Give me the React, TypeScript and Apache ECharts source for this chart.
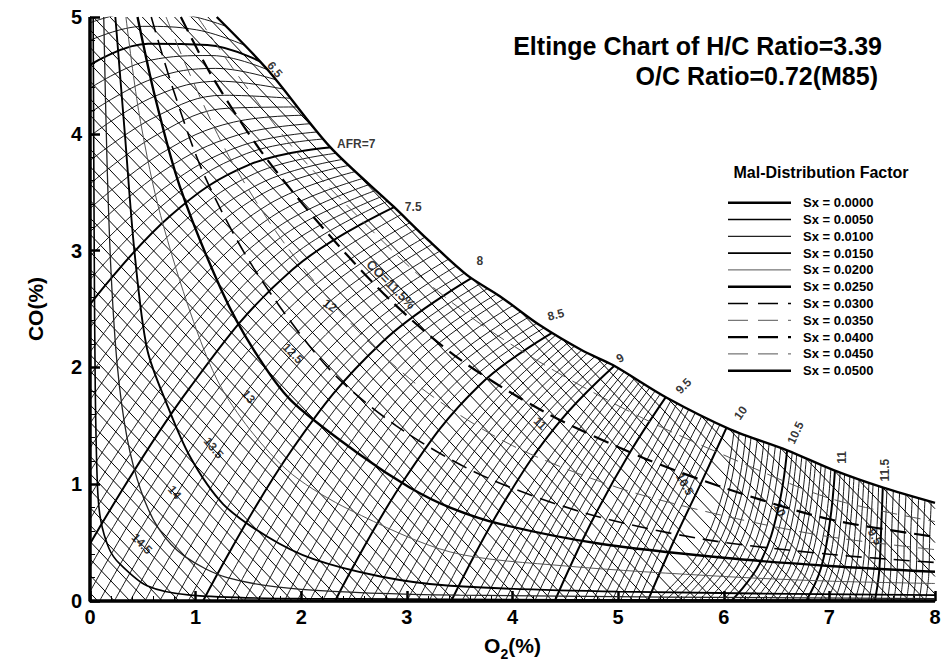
import { useEffect, useRef } from "react";
import * as echarts from "echarts";

const FONT = "'Liberation Sans', Arial, Helvetica, sans-serif";

const titleLines = ["Eltinge Chart of H/C Ratio=3.39", "O/C Ratio=0.72(M85)"];
const legendTitle = "Mal-Distribution Factor";
const sxValues = ["0.0000", "0.0050", "0.0100", "0.0150", "0.0200", "0.0250", "0.0300", "0.0350", "0.0400", "0.0450", "0.0500"];

// Sx (mal-distribution) curves, points are [O2 %, CO %]
const sx0000 = [[0, 5], [0, 0], [8, 0]];
const sx0050 = [[0.03, 5], [0.04, 3], [0.05, 1.8], [0.07, 1.0], [0.1, 0.7], [0.18, 0.45], [0.28, 0.32], [0.54, 0.13], [0.95, 0.05], [2, 0.02], [8, 0.005]];
const sx0100 = [[0.13, 5], [0.16, 3.8], [0.2, 2.8], [0.26, 2.0], [0.35, 1.4], [0.48, 0.95], [0.65, 0.62], [0.9, 0.38], [1.3, 0.2], [2.0, 0.1], [3.5, 0.05], [8, 0.02]];
const sx0150 = [[0.24, 5], [0.33, 4.0], [0.42, 3.0], [0.54, 2.16], [0.73, 1.68], [0.95, 1.23], [1.26, 0.83], [1.68, 0.55], [2.11, 0.36], [2.75, 0.21], [3.41, 0.13], [5.0, 0.08], [8, 0.05]];
const sx0200 = [[0.34, 5], [0.46, 4.2], [0.64, 3.4], [0.92, 2.55], [1.2, 1.9], [1.52, 1.46], [1.92, 1.08], [2.46, 0.78], [3.41, 0.42], [4.5, 0.3], [6.0, 0.21], [7.0, 0.17], [8, 0.15]];
const sx0250 = [[0.45, 5], [0.62, 4.3], [0.85, 3.55], [1.25, 2.65], [1.55, 2.15], [1.9, 1.72], [2.56, 1.25], [3.03, 0.97], [3.41, 0.8], [3.88, 0.66], [4.83, 0.49], [6.0, 0.37], [7.0, 0.3], [8, 0.25]];
const sx0300 = [[0.58, 5], [0.78, 4.4], [1.08, 3.65], [1.55, 2.85], [2.25, 2.0], [2.9, 1.5], [3.7, 1.08], [4.7, 0.75], [5.8, 0.53], [7.0, 0.4], [8, 0.33]];
const sx0350 = [[0.72, 5], [0.95, 4.5], [1.32, 3.8], [1.85, 3.05], [2.55, 2.3], [3.2, 1.78], [4.0, 1.33], [5.0, 0.97], [6.0, 0.73], [7.0, 0.55], [8, 0.44]];
const sx0400 = [[0.86, 5], [1.15, 4.5], [1.62, 3.85], [2.2, 3.2], [2.85, 2.57], [3.5, 2.07], [4.3, 1.62], [5.2, 1.24], [6.0, 0.97], [7.0, 0.7], [8, 0.55]];
const sx0450 = [[1.02, 5], [1.4, 4.5], [1.95, 3.85], [2.55, 3.28], [3.1, 2.8], [3.7, 2.37], [4.4, 1.97], [5.2, 1.58], [6.0, 1.25], [7.0, 0.88], [8, 0.68]];
const sx0500 = [[1.2, 5.0], [1.68, 4.55], [2.27, 3.89], [2.87, 3.38], [3.19, 3.1], [3.57, 2.79], [3.88, 2.61], [4.26, 2.36], [4.67, 2.14], [4.95, 2.02], [5.46, 1.74], [6.06, 1.47], [6.6, 1.29], [7.04, 1.12], [7.51, 0.97], [8.0, 0.84]];
const sxCurves = [sx0000, sx0050, sx0100, sx0150, sx0200, sx0250, sx0300, sx0350, sx0400, sx0450, sx0500];

// CO2 contours: CO-axis intercepts (CO + slope*O2 = intercept), 0.1 % CO2 apart
const co2Intercepts = [0.07, 0.22, 0.36, 0.51, 0.65, 0.8, 0.95, 1.09, 1.24, 1.38, 1.53, 1.68, 1.82, 1.97, 2.11, 2.26, 2.41, 2.55, 2.7, 2.84, 2.99, 3.14, 3.28, 3.43, 3.57, 3.72, 3.87, 4.01, 4.16, 4.3, 4.45, 4.6, 4.74, 4.89, 5.03, 5.18, 5.33, 5.47, 5.62, 5.76, 5.91, 6.06, 6.2, 6.35, 6.49, 6.64, 6.79, 6.93, 7.08, 7.22, 7.37, 7.52, 7.66, 7.81, 7.95, 8.1, 8.25, 8.39];
const co2Slope = 0.95;

// AFR lines, 0.05 apart. Each line: x0,y0, x1,y1, x2,y2, x3,y3 (O2 %, CO %)
const afrRichValues = [6.4, 6.45, 6.5, 6.55, 6.6, 6.65, 6.7, 6.75, 6.8, 6.85, 6.9, 6.95, 7.0, 7.05, 7.1, 7.15, 7.2, 7.25, 7.3, 7.35, 7.4, 7.45, 7.5, 7.55, 7.6];
const afrRichLines = [
  [0, 4.95, 0.44, 5.04, 0.88, 5.02, 1.38, 4.89],
  [0, 4.8, 0.5, 4.92, 1.01, 4.89, 1.56, 4.72],
  [0, 4.59, 0.55, 4.77, 1.11, 4.76, 1.72, 4.57],
  [0, 4.39, 0.57, 4.63, 1.15, 4.67, 1.78, 4.51],
  [0, 4.18, 0.59, 4.47, 1.19, 4.56, 1.84, 4.44],
  [0, 3.98, 0.61, 4.32, 1.23, 4.45, 1.9, 4.37],
  [0, 3.77, 0.63, 4.15, 1.27, 4.33, 1.96, 4.3],
  [0, 3.57, 0.65, 4.0, 1.32, 4.22, 2.03, 4.23],
  [0, 3.36, 0.67, 3.83, 1.36, 4.1, 2.09, 4.16],
  [0, 3.16, 0.69, 3.68, 1.4, 3.99, 2.15, 4.09],
  [0, 2.95, 0.71, 3.54, 1.44, 3.9, 2.21, 4.02],
  [0, 2.75, 0.73, 3.42, 1.48, 3.83, 2.27, 3.96],
  [0, 2.54, 0.75, 3.29, 1.52, 3.74, 2.33, 3.89],
  [0, 2.34, 0.77, 3.15, 1.56, 3.66, 2.39, 3.84],
  [0, 2.13, 0.79, 3.01, 1.6, 3.57, 2.45, 3.79],
  [0, 1.93, 0.81, 2.86, 1.64, 3.49, 2.51, 3.74],
  [0, 1.72, 0.83, 2.71, 1.68, 3.39, 2.57, 3.69],
  [0, 1.52, 0.85, 2.55, 1.72, 3.29, 2.63, 3.63],
  [0, 1.31, 0.87, 2.4, 1.76, 3.19, 2.69, 3.58],
  [0, 1.11, 0.89, 2.26, 1.8, 3.11, 2.75, 3.53],
  [0, 0.9, 0.91, 2.11, 1.84, 3.02, 2.81, 3.48],
  [0, 0.7, 0.92, 1.97, 1.88, 2.93, 2.86, 3.44],
  [0, 0.49, 0.94, 1.82, 1.92, 2.84, 2.92, 3.39],
  [0, 0.29, 0.97, 1.69, 1.96, 2.72, 2.99, 3.33],
  [0, 0.08, 0.99, 1.54, 2.02, 2.62, 3.07, 3.26],
];
const afrLeanValues = [7.65, 7.7, 7.75, 7.8, 7.85, 7.9, 7.95, 8.0, 8.05, 8.1, 8.15, 8.2, 8.25, 8.3, 8.35, 8.4, 8.45, 8.5,
  8.55, 8.6, 8.65, 8.7, 8.75, 8.8, 8.85, 8.9, 8.95, 9.0, 9.05, 9.1, 9.15, 9.2, 9.25, 9.3, 9.35, 9.4, 9.45, 9.5,
  9.55, 9.6, 9.65, 9.7, 9.75, 9.8, 9.85, 9.9, 9.95, 10.0, 10.05, 10.1, 10.15, 10.2, 10.25, 10.3, 10.35, 10.4, 10.45, 10.5,
  10.55, 10.6, 10.65, 10.7, 10.75, 10.8, 10.85, 10.9, 10.95, 11.0, 11.05, 11.1, 11.15, 11.2, 11.25, 11.3, 11.35, 11.4, 11.45, 11.5,
  11.55, 11.6, 11.65, 11.7, 11.75, 11.8, 11.85, 11.9];
const afrLeanLines = [
  [0.09, 0, 1.08, 1.47, 2.09, 2.56, 3.16, 3.22],
  [0.23, 0, 1.2, 1.44, 2.19, 2.5, 3.24, 3.15],
  [0.38, 0, 1.32, 1.41, 2.29, 2.46, 3.31, 3.09],
  [0.52, 0, 1.44, 1.38, 2.38, 2.41, 3.38, 3.03],
  [0.66, 0, 1.56, 1.35, 2.48, 2.35, 3.46, 2.96],
  [0.8, 0, 1.67, 1.32, 2.58, 2.3, 3.53, 2.9],
  [0.93, 0, 1.79, 1.3, 2.67, 2.26, 3.61, 2.84],
  [1.07, 0, 1.9, 1.28, 2.77, 2.22, 3.68, 2.8],
  [1.2, 0, 2.02, 1.26, 2.86, 2.18, 3.76, 2.75],
  [1.33, 0, 2.13, 1.24, 2.95, 2.15, 3.83, 2.71],
  [1.46, 0, 2.24, 1.21, 3.05, 2.11, 3.91, 2.66],
  [1.59, 0, 2.35, 1.2, 3.14, 2.08, 3.98, 2.62],
  [1.71, 0, 2.46, 1.17, 3.23, 2.03, 4.06, 2.56],
  [1.84, 0, 2.57, 1.15, 3.33, 1.99, 4.14, 2.51],
  [1.96, 0, 2.68, 1.12, 3.41, 1.95, 4.21, 2.46],
  [2.08, 0, 2.78, 1.1, 3.51, 1.91, 4.29, 2.41],
  [2.2, 0, 2.89, 1.08, 3.59, 1.88, 4.36, 2.37],
  [2.32, 0, 2.99, 1.06, 3.69, 1.85, 4.44, 2.33],
  [2.44, 0, 3.09, 0.98, 3.77, 1.75, 4.47, 2.32],
  [2.55, 0, 3.19, 0.96, 3.84, 1.72, 4.53, 2.29],
  [2.66, 0, 3.28, 0.95, 3.92, 1.7, 4.59, 2.26],
  [2.78, 0, 3.38, 0.94, 4.0, 1.68, 4.65, 2.23],
  [2.89, 0, 3.47, 0.92, 4.08, 1.65, 4.71, 2.19],
  [3.0, 0, 3.57, 0.91, 4.15, 1.63, 4.77, 2.17],
  [3.1, 0, 3.66, 0.9, 4.23, 1.61, 4.84, 2.14],
  [3.21, 0, 3.75, 0.89, 4.31, 1.59, 4.9, 2.11],
  [3.32, 0, 3.84, 0.88, 4.39, 1.57, 4.96, 2.09],
  [3.42, 0, 3.93, 0.86, 4.46, 1.55, 5.02, 2.06],
  [3.52, 0, 4.02, 0.77, 4.53, 1.45, 5.06, 2.05],
  [3.63, 0, 4.11, 0.76, 4.59, 1.42, 5.11, 2.02],
  [3.73, 0, 4.19, 0.75, 4.66, 1.41, 5.16, 2.0],
  [3.83, 0, 4.27, 0.74, 4.73, 1.39, 5.21, 1.97],
  [3.93, 0, 4.36, 0.73, 4.79, 1.37, 5.26, 1.94],
  [4.02, 0, 4.43, 0.72, 4.85, 1.35, 5.3, 1.92],
  [4.12, 0, 4.51, 0.71, 4.92, 1.33, 5.35, 1.89],
  [4.21, 0, 4.59, 0.7, 4.98, 1.31, 5.4, 1.86],
  [4.31, 0, 4.67, 0.69, 5.05, 1.29, 5.45, 1.84],
  [4.4, 0, 4.75, 0.68, 5.11, 1.27, 5.5, 1.81],
  [4.49, 0, 4.83, 0.6, 5.18, 1.18, 5.55, 1.8],
  [4.58, 0, 4.91, 0.59, 5.25, 1.17, 5.61, 1.78],
  [4.67, 0, 4.99, 0.58, 5.32, 1.15, 5.67, 1.75],
  [4.76, 0, 5.07, 0.57, 5.38, 1.13, 5.72, 1.73],
  [4.85, 0, 5.15, 0.56, 5.45, 1.11, 5.78, 1.7],
  [4.94, 0, 5.23, 0.55, 5.52, 1.09, 5.84, 1.67],
  [5.02, 0, 5.3, 0.55, 5.59, 1.08, 5.9, 1.65],
  [5.11, 0, 5.38, 0.54, 5.66, 1.06, 5.96, 1.62],
  [5.19, 0, 5.45, 0.53, 5.72, 1.04, 6.01, 1.6],
  [5.28, 0, 5.53, 0.52, 5.79, 1.02, 6.07, 1.57],
  [5.36, 0, 5.73, 0.37, 5.99, 0.92, 6.11, 1.56],
  [5.44, 0, 5.8, 0.36, 6.04, 0.91, 6.16, 1.54],
  [5.52, 0, 5.87, 0.36, 6.11, 0.89, 6.22, 1.52],
  [5.6, 0, 5.93, 0.35, 6.16, 0.88, 6.27, 1.5],
  [5.68, 0, 6.0, 0.35, 6.22, 0.87, 6.33, 1.48],
  [5.76, 0, 6.07, 0.34, 6.29, 0.86, 6.39, 1.46],
  [5.84, 0, 6.14, 0.34, 6.34, 0.84, 6.44, 1.44],
  [5.92, 0, 6.21, 0.33, 6.4, 0.83, 6.5, 1.42],
  [5.99, 0, 6.27, 0.33, 6.46, 0.83, 6.55, 1.41],
  [6.07, 0, 6.34, 0.32, 6.52, 0.81, 6.61, 1.39],
  [6.14, 0, 6.4, 0.32, 6.57, 0.8, 6.66, 1.37],
  [6.21, 0, 6.45, 0.31, 6.62, 0.79, 6.7, 1.35],
  [6.29, 0, 6.52, 0.31, 6.67, 0.78, 6.75, 1.34],
  [6.36, 0, 6.57, 0.31, 6.72, 0.77, 6.79, 1.32],
  [6.43, 0, 6.63, 0.3, 6.77, 0.76, 6.84, 1.3],
  [6.5, 0, 6.69, 0.3, 6.81, 0.74, 6.88, 1.28],
  [6.57, 0, 6.75, 0.29, 6.87, 0.74, 6.93, 1.27],
  [6.64, 0, 6.8, 0.29, 6.91, 0.72, 6.97, 1.25],
  [6.71, 0, 6.86, 0.28, 6.97, 0.71, 7.02, 1.23],
  [6.78, 0, 6.92, 0.28, 7.01, 0.71, 7.06, 1.22],
  [6.85, 0, 6.98, 0.28, 7.06, 0.69, 7.11, 1.2],
  [6.91, 0, 7.03, 0.27, 7.11, 0.69, 7.15, 1.19],
  [6.98, 0, 7.09, 0.27, 7.16, 0.67, 7.2, 1.17],
  [7.05, 0, 7.14, 0.27, 7.2, 0.67, 7.24, 1.16],
  [7.11, 0, 7.2, 0.26, 7.25, 0.66, 7.29, 1.14],
  [7.18, 0, 7.25, 0.26, 7.3, 0.65, 7.33, 1.13],
  [7.24, 0, 7.31, 0.25, 7.35, 0.64, 7.38, 1.11],
  [7.3, 0, 7.36, 0.25, 7.39, 0.63, 7.42, 1.1],
  [7.37, 0, 7.42, 0.25, 7.45, 0.62, 7.47, 1.09],
  [7.43, 0, 7.47, 0.24, 7.49, 0.61, 7.51, 1.07],
  [7.49, 0, 7.52, 0.24, 7.53, 0.6, 7.55, 1.06],
  [7.55, 0, 7.58, 0.24, 7.59, 0.59, 7.61, 1.04],
  [7.61, 0, 7.64, 0.23, 7.65, 0.59, 7.67, 1.03],
  [7.67, 0, 7.7, 0.23, 7.71, 0.57, 7.73, 1.01],
  [7.73, 0, 7.76, 0.23, 7.77, 0.57, 7.79, 1.0],
  [7.79, 0, 7.82, 0.22, 7.83, 0.55, 7.85, 0.98],
  [7.85, 0, 7.88, 0.22, 7.89, 0.55, 7.91, 0.97],
  [7.91, 0, 7.94, 0.21, 7.95, 0.54, 7.97, 0.95],
];

// in-plot labels: [text, O2, CO, rotation deg]
const afrLabels: [string, number, number, number][] = [
  ["6.5", 1.75, 4.55, -50], ["AFR=7", 2.52, 3.91, 0], ["7.5", 3.06, 3.37, 0], ["8", 3.69, 2.91, 0],
  ["8.5", 4.41, 2.45, 15], ["9", 5.02, 2.08, 30], ["9.5", 5.62, 1.84, 45], ["10", 6.16, 1.61, 55],
  ["10.5", 6.68, 1.44, 65], ["11", 7.12, 1.23, 90], ["11.5", 7.53, 1.12, 90],
];
const co2Labels: [string, number, number, number][] = [
  ["14.5", 0.49, 0.49, -45], ["14", 0.8, 0.93, -50], ["13.5", 1.17, 1.31, -50], ["13", 1.5, 1.75, -50],
  ["12.5", 1.92, 2.12, -45], ["12", 2.27, 2.53, -35], ["CO=11.5%", 2.85, 2.71, -45], ["11", 4.26, 1.52, -45],
  ["10.5", 5.63, 1.0, -60], ["10", 6.53, 0.78, -65], ["9.5", 7.43, 0.55, -60],
];

// styles for the Sx curves (index matches sxValues)
const sxStyles = [
  { width: 3.5, dash: null, color: "#000" },
  { width: 1.6, dash: null, color: "#000" },
  { width: 1.3, dash: null, color: "#222" },
  { width: 1.9, dash: null, color: "#000" },
  { width: 1.0, dash: null, color: "#555" },
  { width: 2.4, dash: null, color: "#000" },
  { width: 1.6, dash: [16, 8], color: "#000" },
  { width: 1.0, dash: [16, 8], color: "#555" },
  { width: 2.2, dash: [16, 8], color: "#000" },
  { width: 1.0, dash: [16, 8], color: "#555" },
  { width: 2.4, dash: null, color: "#000" },
];

function co2Segment(c: number) {
  const start = c <= 5 ? [0, c] : [(c - 5) / co2Slope, 5];
  const xEnd = c / co2Slope;
  const end = xEnd <= 8 ? [xEnd, 0] : [8, c - 8 * co2Slope];
  return [start, end];
}

function pairs(flat: number[]) {
  const out: number[][] = [];
  for (let i = 0; i < flat.length; i += 2) out.push([flat[i], flat[i + 1]]);
  return out;
}

function isBold(v: number) {
  return Math.abs(v * 2 - Math.round(v * 2)) < 1e-6;
}

export default function App() {
  const ref = useRef<HTMLDivElement>(null);
  useEffect(() => {
    if (!ref.current) return;
    const chart = echarts.init(ref.current, undefined, { renderer: "svg" });

    const series: any[] = [];
    series.push({
      type: "lines",
      coordinateSystem: "cartesian2d",
      silent: true,
      z: 2,
      lineStyle: { color: "#000", width: 1, opacity: 1 },
      data: co2Intercepts.map((c) => ({ coords: co2Segment(c) })),
    });
    const afrAll = [
      ...afrRichValues.map((v, i) => ({ v, pts: pairs(afrRichLines[i]) })),
      ...afrLeanValues.map((v, i) => ({ v, pts: pairs(afrLeanLines[i]) })),
    ];
    afrAll.forEach((l) => {
      series.push({
        type: "line",
        data: l.pts,
        smooth: 0.4,
        showSymbol: false,
        symbol: "none",
        silent: true,
        z: 2,
        lineStyle: { color: "#000", width: isBold(l.v) ? 2 : 0.9 },
      });
    });
    // white cover outside the Sx = 0.05 envelope
    series.push({
      type: "line",
      data: sx0500,
      smooth: 0.3,
      symbol: "none",
      silent: true,
      z: 3,
      lineStyle: { width: 0, opacity: 0 },
      areaStyle: { color: "#fff", opacity: 1, origin: "end" },
    });
    sxCurves.forEach((pts, i) => {
      const st = sxStyles[i];
      series.push({
        type: "line",
        data: pts,
        smooth: i === 0 ? false : 0.3,
        symbol: "none",
        silent: true,
        clip: i !== 0,
        z: 4,
        lineStyle: { color: st.color, width: st.width, type: st.dash ? st.dash : "solid" },
      });
    });
    const labelSeries = (arr: [string, number, number, number][]) => ({
      type: "scatter",
      symbolSize: 1,
      silent: true,
      z: 6,
      itemStyle: { color: "rgba(0,0,0,0)" },
      label: { show: true, formatter: "{b}", position: "inside", color: "#000", fontWeight: "bold", fontSize: 12, fontFamily: FONT },
      data: arr.map(([t, x, y, r]) => ({ name: t, value: [x, y], label: { rotate: r, fontSize: t.length > 5 ? 13 : 12 } })),
    });
    series.push(labelSeries(afrLabels));
    series.push(labelSeries(co2Labels));

    const legendTop = 202.7;
    const legendStep = 16.8;
    const graphic: any[] = [
      { type: "text", x: 882, y: 46, z: 10, style: { text: titleLines[0], font: `bold 25px ${FONT}`, fill: "#000", textAlign: "right", textVerticalAlign: "middle" } },
      { type: "text", x: 878, y: 76, z: 10, style: { text: titleLines[1], font: `bold 25px ${FONT}`, fill: "#000", textAlign: "right", textVerticalAlign: "middle" } },
      { type: "text", x: 821, y: 172, z: 10, style: { text: legendTitle, font: `bold 16px ${FONT}`, fill: "#000", textAlign: "center", textVerticalAlign: "middle" } },
    ];
    sxValues.forEach((v, i) => {
      const y = legendTop + legendStep * i;
      const st = sxStyles[i];
      graphic.push({
        type: "line",
        z: 10,
        shape: { x1: 728, y1: y, x2: 791, y2: y },
        style: { stroke: st.color, lineWidth: Math.min(st.width, 2.4), lineDash: st.dash ? [20, 10] : null },
      });
      graphic.push({
        type: "text",
        x: 803,
        y,
        z: 10,
        style: { text: "Sx = " + v, font: `bold 13px ${FONT}`, fill: "#000", textAlign: "left", textVerticalAlign: "middle" },
      });
    });

    chart.setOption({
      animation: false,
      backgroundColor: "#fff",
      grid: { left: 90, right: 9, top: 17, bottom: 62, containLabel: false },
      xAxis: {
        type: "value",
        min: 0,
        max: 8,
        interval: 1,
        name: "{n|O}{s|2}{n|(%)}",
        nameLocation: "middle",
        nameGap: 34,
        nameTextStyle: {
          rich: {
            n: { fontSize: 21, fontWeight: "bold", fontFamily: FONT, color: "#000", lineHeight: 21, verticalAlign: "top" },
            s: { fontSize: 14, fontWeight: "bold", fontFamily: FONT, color: "#000", lineHeight: 26, verticalAlign: "bottom" },
          },
        },
        axisLine: { lineStyle: { color: "#000", width: 1 } },
        axisTick: { inside: true, length: 10, lineStyle: { color: "#000", width: 2.5 } },
        minorTick: { show: true, splitNumber: 5, length: 5, lineStyle: { color: "#000", width: 1 } },
        splitLine: { show: false },
        axisLabel: { color: "#000", fontWeight: "bold", fontSize: 20, fontFamily: FONT, margin: 6 },
      },
      yAxis: {
        type: "value",
        min: 0,
        max: 5,
        interval: 1,
        name: "CO(%)",
        nameLocation: "middle",
        nameGap: 44,
        nameRotate: 90,
        nameTextStyle: { fontSize: 21, fontWeight: "bold", fontFamily: FONT, color: "#000" },
        axisLine: { lineStyle: { color: "#000", width: 1 } },
        axisTick: { inside: true, length: 10, lineStyle: { color: "#000", width: 2.5 } },
        minorTick: { show: true, splitNumber: 5, length: 5, lineStyle: { color: "#000", width: 1 } },
        splitLine: { show: false },
        axisLabel: { color: "#000", fontWeight: "bold", fontSize: 20, fontFamily: FONT, margin: 8 },
      },
      series,
      graphic,
    });
    return () => chart.dispose();
  }, []);
  return <div ref={ref} style={{ position: "fixed", left: 0, top: 0, width: 944, height: 666, background: "#fff" }} />;
}
